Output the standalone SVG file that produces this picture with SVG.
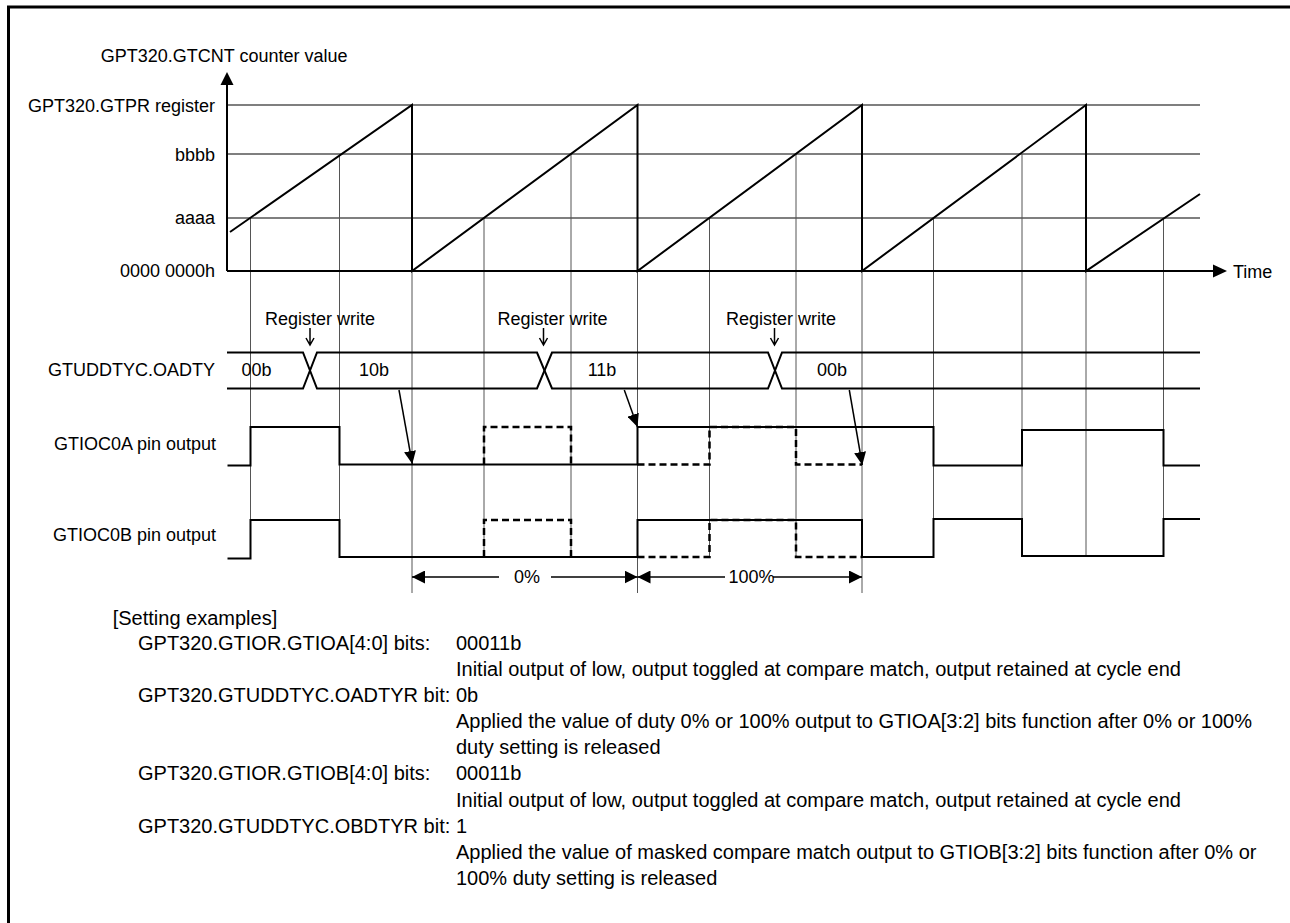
<svg xmlns="http://www.w3.org/2000/svg" width="1290" height="923" viewBox="0 0 1290 923">
<style>
text{font-family:"Liberation Sans",Arial,sans-serif;fill:#000}
.t18{font-size:18px}
.t20{font-size:20px}
.r{text-anchor:end}
.m{text-anchor:middle}
.ref{stroke:#000;stroke-width:1.2;fill:none}
.grid{stroke:#555;stroke-width:1;fill:none}
.thick{stroke:#000;stroke-width:2;fill:none}
.wave{stroke:#000;stroke-width:2;fill:none}
.dash{stroke:#000;stroke-width:2.5;fill:none;stroke-dasharray:7,4}
.conn{stroke:#000;stroke-width:1.5;fill:none}
</style>
<defs>
<marker id="ah" markerUnits="userSpaceOnUse" markerWidth="14" markerHeight="13" refX="13" refY="6.5" orient="auto">
<path d="M0,0 L13,6.5 L0,13 z" fill="#000"/>
</marker>
<marker id="ahs" markerUnits="userSpaceOnUse" markerWidth="14" markerHeight="12" refX="13" refY="6" orient="auto">
<path d="M0,0 L13,6 L0,12 z" fill="#000"/>
</marker>
</defs>
<rect width="1290" height="923" fill="#fff"/>
<g id="frame">
<path d="M8.5,923 V7 H1290" stroke="#000" stroke-width="3" fill="none"/>
</g>
<g id="reference-lines">
<line class="ref" x1="227" y1="105" x2="1200" y2="105"/>
<line class="ref" x1="227" y1="154" x2="1200" y2="154"/>
<line class="ref" x1="227" y1="218" x2="1200" y2="218"/>
</g>
<g id="grid">
<line class="grid" x1="250.5" y1="218" x2="250.5" y2="557"/>
<line class="grid" x1="339.5" y1="154" x2="339.5" y2="557"/>
<line class="grid" x1="412" y1="271" x2="412" y2="593"/>
<line class="grid" x1="484" y1="218" x2="484" y2="557"/>
<line class="grid" x1="571" y1="154" x2="571" y2="557"/>
<line class="grid" x1="637.5" y1="271" x2="637.5" y2="593"/>
<line class="grid" x1="709.5" y1="218" x2="709.5" y2="557"/>
<line class="grid" x1="796" y1="154" x2="796" y2="557"/>
<line class="grid" x1="862" y1="271" x2="862" y2="593"/>
<line class="grid" x1="933.5" y1="218" x2="933.5" y2="557"/>
<line class="grid" x1="1022" y1="154" x2="1022" y2="557"/>
<line class="grid" x1="1086" y1="271" x2="1086" y2="557"/>
<line class="grid" x1="1163.5" y1="218" x2="1163.5" y2="557"/>
</g>
<g id="axes">
<line class="thick" x1="227" y1="271" x2="227" y2="84"/>
<path d="M220.5,85 L227,72 L233.5,85 z" fill="#000"/>
<line class="thick" x1="227" y1="271" x2="1214" y2="271"/>
<path d="M1213,264.5 L1227,271 L1213,277.5 z" fill="#000"/>
<text class="t18" x="100.7" y="62">GPT320.GTCNT counter value</text>
<text class="t18" x="1233" y="277.5">Time</text>
<text class="t18 r" x="215" y="112">GPT320.GTPR register</text>
<text class="t18 r" x="215" y="160.5">bbbb</text>
<text class="t18 r" x="215" y="223.5">aaaa</text>
<text class="t18 r" x="215" y="276.5">0000 0000h</text>
</g>
<g id="sawtooth">
<path class="thick" d="M230,232 L412,105 V271 L637.5,105 V271 L862,105 V271 L1086,105 V271 L1200,194"/>
</g>
<g id="oadty-bus">
<text class="t18 r" x="215" y="376">GTUDDTYC.OADTY</text>
<path class="wave" d="M227,352.5 H303 L317,388.5 H537 L552,352.5 H768 L782,388.5 H1200"/>
<path class="wave" d="M227,388.5 H303 L317,352.5 H537 L552,388.5 H768 L782,352.5 H1200"/>
<text class="t18 m" x="256.5" y="376">00b</text>
<text class="t18 m" x="374" y="376">10b</text>
<text class="t18 m" x="602" y="376">11b</text>
<text class="t18 m" x="832" y="376">00b</text>
</g>
<g id="register-writes">
<text class="t18" x="265" y="325">Register write</text>
<text class="t18" x="497.5" y="325">Register write</text>
<text class="t18" x="726" y="325">Register write</text>
<path class="conn" stroke-width="2" d="M310,328 V344 M306,338 L310,345 L314,338"/>
<path class="conn" stroke-width="2" d="M543.5,328 V344 M539.5,338 L543.5,345 L547.5,338"/>
<path class="conn" stroke-width="2" d="M774.5,328 V344 M770.5,338 L774.5,345 L778.5,338"/>
</g>
<g id="gtioc0a">
<text class="t18 r" x="216" y="450">GTIOC0A pin output</text>
<path class="wave" d="M227.5,465.5 H250.5 V427 H339.5 V464.5 H637.5 V427 H933.5 V465.5 H1022 V430 H1163.5 V465.5 H1200"/>
<path class="dash" d="M484,464.5 V427 H571 V464.5"/>
<path class="dash" d="M637.5,464.5 H709.5 V427 H796 V464.5 H862"/>
</g>
<g id="gtioc0b">
<text class="t18 r" x="216" y="541">GTIOC0B pin output</text>
<path class="wave" d="M227.5,558.5 H250.5 V520 H339.5 V557 H637.5 V520 H862 V557 H933.5 V519 H1022 V556 H1163.5 V519 H1200"/>
<path class="dash" d="M484,557 V520 H571 V557"/>
<path class="dash" d="M637.5,557 H709.5 V520 H796 V557 H862"/>
</g>
<g id="connectors">
<line class="conn" x1="399" y1="390" x2="412.3" y2="464" marker-end="url(#ahs)"/>
<line class="conn" x1="624.3" y1="390" x2="637.5" y2="427" marker-end="url(#ahs)"/>
<line class="conn" x1="849.3" y1="390" x2="862.3" y2="465" marker-end="url(#ahs)"/>
</g>
<g id="dimensions">
<line class="conn" x1="499" y1="577" x2="412" y2="577" marker-end="url(#ah)"/>
<line class="conn" x1="551" y1="577" x2="637.5" y2="577" marker-end="url(#ah)"/>
<text class="t18 m" x="527" y="583">0%</text>
<line class="conn" x1="725" y1="577" x2="637.5" y2="577" marker-end="url(#ah)"/>
<line class="conn" x1="773" y1="577" x2="862" y2="577" marker-end="url(#ah)"/>
<text class="t18 m" x="751.5" y="583">100%</text>
</g>
<g id="setting-examples">
<text class="t20" x="112.7" y="625">[Setting examples]</text>
<text class="t20" x="138" y="650">GPT320.GTIOR.GTIOA[4:0] bits:</text>
<text class="t20" x="456" y="650">00011b</text>
<text class="t20" x="456" y="676">Initial output of low, output toggled at compare match, output retained at cycle end</text>
<text class="t20" x="138" y="702">GPT320.GTUDDTYC.OADTYR bit:</text>
<text class="t20" x="456" y="702">0b</text>
<text class="t20" x="456" y="728">Applied the value of duty 0% or 100% output to GTIOA[3:2] bits function after 0% or 100%</text>
<text class="t20" x="456" y="754">duty setting is released</text>
<text class="t20" x="138" y="780">GPT320.GTIOR.GTIOB[4:0] bits:</text>
<text class="t20" x="456" y="780">00011b</text>
<text class="t20" x="456" y="807">Initial output of low, output toggled at compare match, output retained at cycle end</text>
<text class="t20" x="138" y="833">GPT320.GTUDDTYC.OBDTYR bit:</text>
<text class="t20" x="456" y="833">1</text>
<text class="t20" x="456" y="859">Applied the value of masked compare match output to GTIOB[3:2] bits function after 0% or</text>
<text class="t20" x="456" y="885">100% duty setting is released</text>
</g>
</svg>
